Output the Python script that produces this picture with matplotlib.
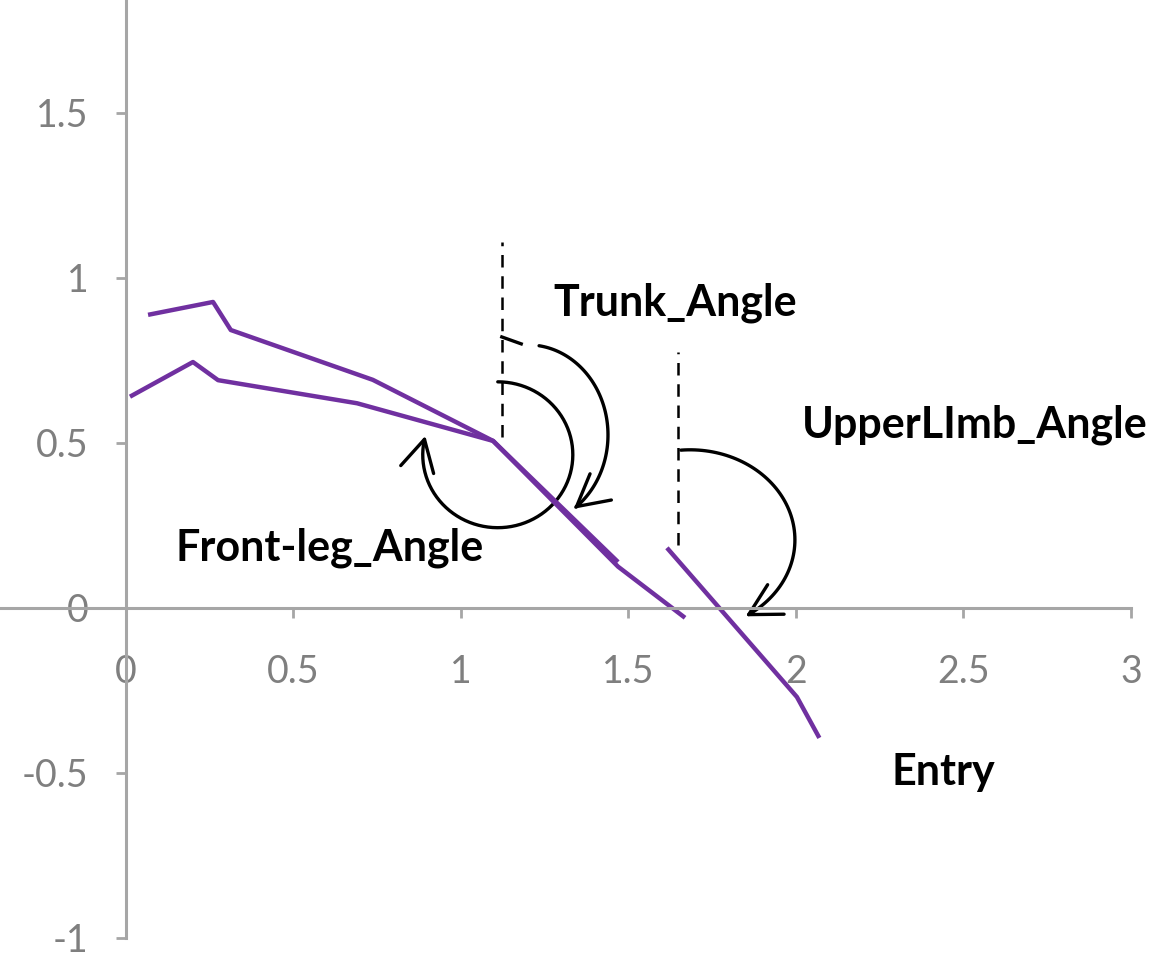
import numpy as np
import matplotlib.pyplot as plt
from matplotlib.path import Path
from matplotlib.patches import FancyArrowPatch

plt.rcParams['font.family'] = ['Lato', 'DejaVu Sans']

# body segment lines
upper_x = [0.066, 0.26, 0.313, 0.737, 1.096, 1.469]
upper_y = [0.888, 0.927, 0.842, 0.691, 0.506, 0.139]
lower_x = [0.012, 0.2, 0.275, 0.69, 1.096, 1.469, 1.669]
lower_y = [0.64, 0.745, 0.69, 0.62, 0.506, 0.125, -0.03]
limb_x = [1.615, 2.003, 2.07]
limb_y = [0.182, -0.27, -0.394]

x_ticks = [0, 0.5, 1, 1.5, 2, 2.5, 3]
x_labels = ['0', '0.5', '1', '1.5', '2', '2.5', '3']
y_ticks = [-1, -0.5, 0, 0.5, 1, 1.5]
y_labels = ['-1', '-0.5', '0', '0.5', '1', '1.5']

# reference verticals (x, y0, y1)
verticals = [(1.122, 0.518, 1.109), (1.648, 0.191, 0.776)]

# angle arcs: center, radii, start/end angle in degrees
arcs = [
    ((1.20, 0.524), (0.239, 0.273), 82, -55),    # trunk
    ((1.110, 0.464), (0.224, 0.221), 90, -195),  # front leg
    ((1.684, 0.206), (0.313, 0.273), 95, -58),   # upper limb
]

labels = [
    ('Trunk_Angle', 1.639, 0.924),
    ('Front-leg_Angle', 0.609, 0.182),
    ('UpperLImb_Angle', 2.534, 0.555),
    ('Entry', 2.439, -0.497),
]

purple = '#7030A0'
grey = '#A6A6A6'

fig = plt.figure(figsize=(11.52, 9.61), dpi=100)
ax = fig.add_axes([0, 0, 1, 1])
ax.set_xlim(-0.376, 3.063)
ax.set_ylim(-1.07, 1.842)

ax.plot(upper_x, upper_y, color=purple, lw=3.2, solid_capstyle='butt')
ax.plot(lower_x, lower_y, color=purple, lw=3.2, solid_capstyle='butt')
ax.plot(limb_x, limb_y, color=purple, lw=3.2, solid_capstyle='butt')

for x, y0, y1 in verticals:
    ax.plot([x, x], [y0, y1], color='black', lw=1.8, ls=(0, (5, 3.5)))

# little dash at the start of the trunk arc
ax.plot([1.122, 1.18], [0.821, 0.80], color='black', lw=2.4)

for (cx, cy), (rx, ry), a0, a1 in arcs:
    t = np.radians(np.linspace(a0, a1, 80))
    verts = np.column_stack([cx + rx * np.cos(t), cy + ry * np.sin(t)])
    arr = FancyArrowPatch(path=Path(verts),
                          arrowstyle='->,head_length=0.7,head_width=0.38',
                          mutation_scale=32, lw=2.4, color='black')
    ax.add_patch(arr)

for txt, x, y in labels:
    ax.text(x, y, txt, fontsize=31, fontweight='bold', color='black',
            ha='center', va='center')

for s in ['top', 'right']:
    ax.spines[s].set_visible(False)
ax.spines['left'].set_position(('data', 0))
ax.spines['bottom'].set_position(('data', 0))
ax.spines['left'].set_bounds(-1, 1.842)
ax.spines['bottom'].set_bounds(-0.376, 3)
for s in ['left', 'bottom']:
    ax.spines[s].set_color(grey)
    ax.spines[s].set_linewidth(2.2)

ax.set_xticks(x_ticks)
ax.set_xticklabels(x_labels)
ax.set_yticks(y_ticks)
ax.set_yticklabels(y_labels)
ax.tick_params(axis='x', direction='out', length=7, width=2, color=grey,
               labelsize=27, labelcolor='#7F7F7F', pad=26)
ax.tick_params(axis='y', direction='out', length=7, width=2, color=grey,
               labelsize=27, labelcolor='#7F7F7F', pad=20)

fig.savefig('out.png', dpi=100)
